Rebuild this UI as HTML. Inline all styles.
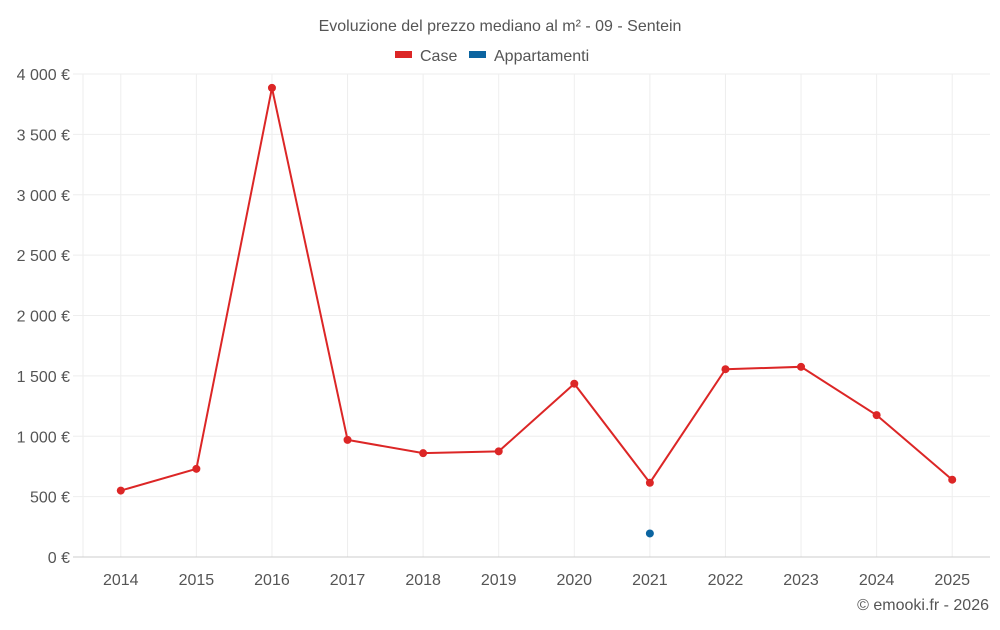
<!DOCTYPE html>
<html><head><meta charset="utf-8"><style>
body{margin:0;background:#fff;font-family:"Liberation Sans",sans-serif}
svg text{font-family:"Liberation Sans",sans-serif;fill:#555}
</style></head><body>
<svg id="c" width="1000" height="625">
<text x="500" y="31" text-anchor="middle" font-size="16">Evoluzione del prezzo mediano al m² - 09 - Sentein</text>
<g>
<rect x="395" y="51" width="17" height="7" fill="#dc2626"/>
<text x="420" y="61" font-size="16">Case</text>
<rect x="469" y="51" width="17" height="7" fill="#0b64a0"/>
<text x="494" y="61" font-size="16">Appartamenti</text>
</g>
<g id="grid"></g><g id="marks"></g>
<text x="989" y="610" text-anchor="end" font-size="16">© emooki.fr - 2026</text>
</svg>
<script>
const years=["2014","2015","2016","2017","2018","2019","2020","2021","2022","2023","2024","2025"];
const caseVals=[550,730,3885,970,860,875,1435,615,1555,1575,1175,640];
const apptVals=[null,null,null,null,null,null,null,195,null,null,null,null];
const yTicks=[0,500,1000,1500,2000,2500,3000,3500,4000];
const yLabels=["0 €","500 €","1 000 €","1 500 €","2 000 €","2 500 €","3 000 €","3 500 €","4 000 €"];
const L=83,R=990,T=74,B=557,NS="http://www.w3.org/2000/svg";
const bw=(R-L)/years.length;
const x=i=>L+bw*(i+0.5);
const y=v=>B-(v/4000)*(B-T);
function mk(p,t,a){const e=document.createElementNS(NS,t);for(const k in a)e.setAttribute(k,a[k]);p.appendChild(e);return e;}
const g=document.getElementById('grid'),m=document.getElementById('marks');
const le=mk(g,'line',{x1:L,x2:L,y1:T,y2:B,stroke:'#eee'});


years.forEach((yr,i)=>{
 const l=mk(g,'line',{x1:x(i),x2:x(i),y1:T,y2:B,stroke:'#eee'});
 
 
 const t=mk(g,'text',{x:x(i),y:585,'text-anchor':'middle','font-size':16});
 t.textContent=yr;
 
 
});
yTicks.forEach((v,i)=>{
 const l=mk(g,'line',{x1:L-10,x2:R,y1:y(v),y2:y(v),stroke:i==0?'#ccc':'#eee'});
 
 
 const t=mk(g,'text',{x:70,y:y(v)+6,'text-anchor':'end','font-size':16});
 t.textContent=yLabels[i];
 
 
});
const pl=mk(m,'polyline',{points:caseVals.map((v,i)=>x(i)+','+y(v)).join(' '),fill:'none',stroke:'#dc2626','stroke-width':2});


caseVals.forEach((v,i)=>{
 const c=mk(m,'circle',{cx:x(i),cy:y(v),r:4,fill:'#dc2626'});
 
 
});
apptVals.forEach((v,i)=>{if(v==null)return;
 const c=mk(m,'circle',{cx:x(i),cy:y(v),r:4,fill:'#0b64a0'});
 
 
});
</script>
</body></html>
